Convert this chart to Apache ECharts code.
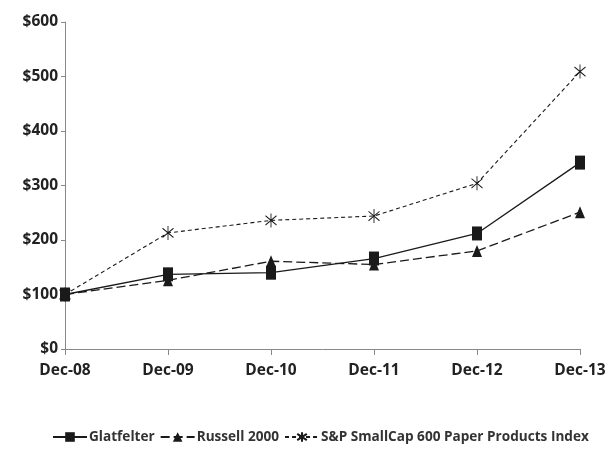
<!DOCTYPE html>
<html><head><meta charset="utf-8">
<script src="https://cdn.jsdelivr.net/npm/echarts@6/dist/echarts.min.js"></script>
<style>html,body{margin:0;padding:0;background:#fff}#c{width:612px;height:466px}</style>
</head><body><div id="c"></div>
<script>
var categories = ['Dec-08','Dec-09','Dec-10','Dec-11','Dec-12','Dec-13'];
var glatfelter = [100, 137, 140, 166, 212, 342];
var russell = [100, 126, 161, 155, 180, 251];
var spPaper = [100, 213, 236, 244, 304, 509];
var yTicks = [0, 100, 200, 300, 400, 500, 600];

var ink = '#1a1a1a';
var asterisk = 'path://M5 0 L5 12 M0 2 L10 10 M0 10 L10 2';
var chart = echarts.init(document.getElementById('c'), null, {renderer:'canvas'});
chart.setOption({
  animation:false,
  grid:{left:65, right:32, top:22, bottom:117},
  legend:{
    bottom:22, left:52, padding:0, itemGap:5, itemWidth:34, itemHeight:12,
    textStyle:{fontFamily:'Open Sans', fontWeight:'bold', fontSize:13.6, color:'#333', padding:[0,0,0,-3]},
    data:['Glatfelter','Russell 2000','S&P SmallCap 600 Paper Products Index']
  },
  xAxis:{
    type:'category', data:categories, boundaryGap:false,
    axisLine:{lineStyle:{color:'#888', width:1}},
    axisTick:{show:true, length:6, alignWithLabel:true, lineStyle:{color:'#888'}},
    axisLabel:{margin:14, fontFamily:'Open Sans', fontWeight:'bold', fontSize:15.5, color:'#222'}
  },
  yAxis:{
    type:'value', min:yTicks[0], max:yTicks[yTicks.length-1], interval:100,
    splitLine:{show:false},
    axisLine:{show:true, lineStyle:{color:'#888', width:1}},
    axisTick:{show:true, length:4, lineStyle:{color:'#888'}},
    axisLabel:{margin:7, fontFamily:'Open Sans', fontWeight:'bold', fontSize:15.5, color:'#222',
      formatter:function(v){return '$'+v;}}
  },
  series:[
    {name:'Glatfelter', type:'line', data:glatfelter, symbol:'rect', symbolSize:[10,14],
      lineStyle:{color:ink, width:1.3, type:'solid'}, itemStyle:{color:ink}, z:3},
    {name:'Russell 2000', type:'line', data:russell, symbol:'triangle', symbolSize:[10,12],
      lineStyle:{color:ink, width:1.3, type:[9,4]}, itemStyle:{color:ink}, z:2},
    {name:'S&P SmallCap 600 Paper Products Index', type:'line', data:spPaper, symbol:asterisk, symbolSize:[11,14],
      lineStyle:{color:ink, width:1.1, type:[4,3]}, itemStyle:{color:ink, borderColor:ink, borderWidth:1}, z:1}
  ]
});
</script></body></html>
